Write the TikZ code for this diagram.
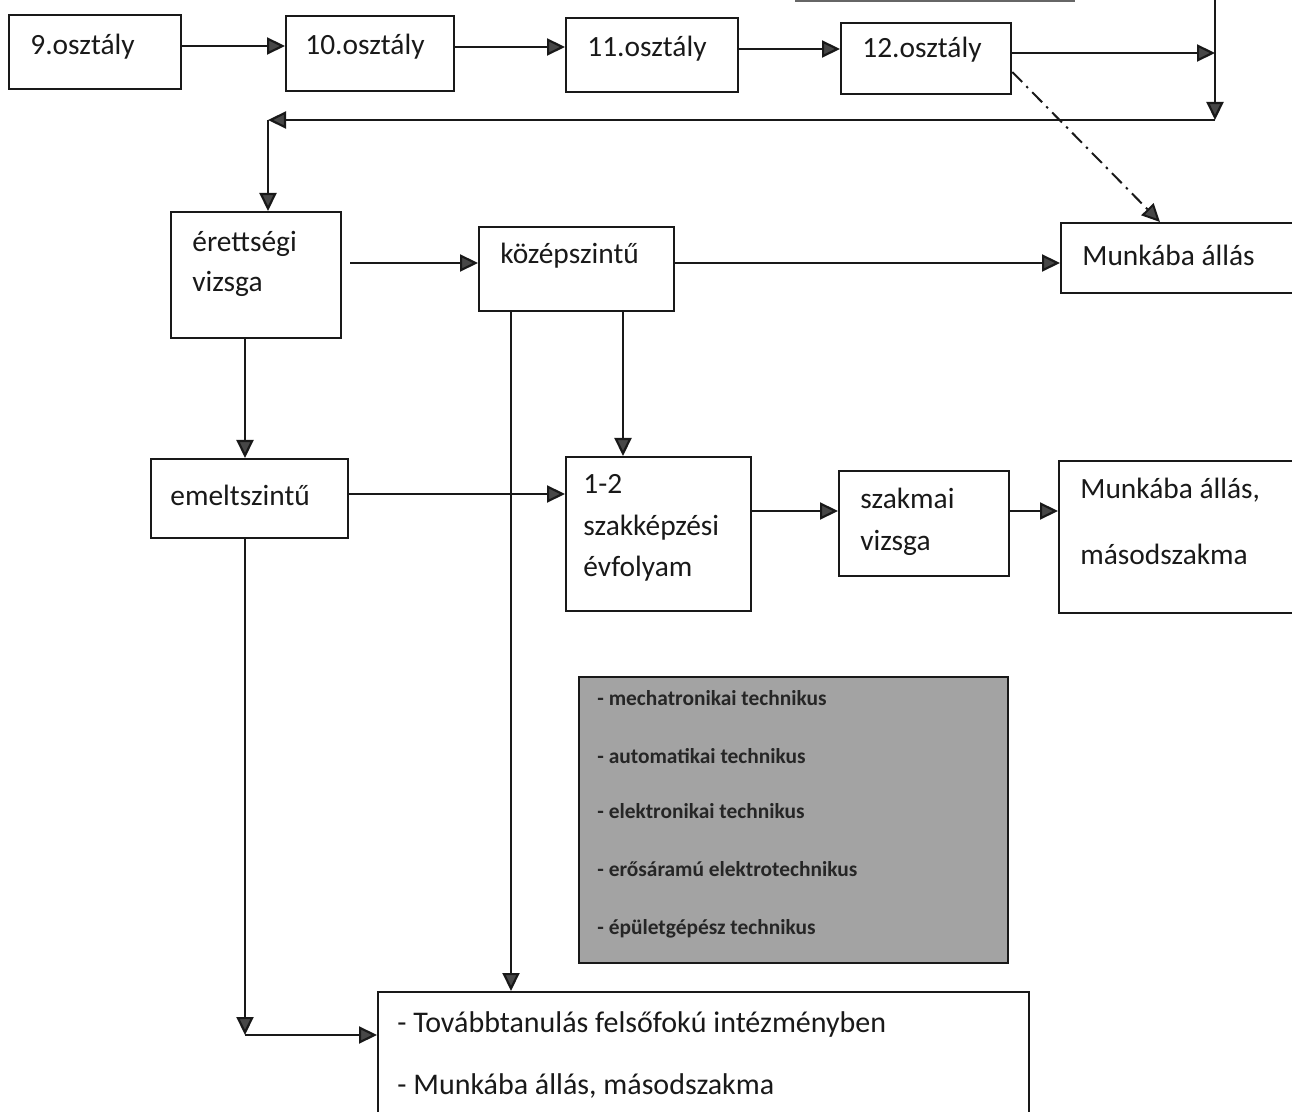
\documentclass[tikz,border=0pt]{standalone}
\usepackage{fontspec}
\setmainfont{Carlito}
\usetikzlibrary{arrows.meta}
\definecolor{boxgray}{RGB}{163,163,163}
\definecolor{ink}{RGB}{25,25,25}
\tikzset{
  box/.style={draw=ink, line width=1.15pt, inner sep=0pt},
  txt/.style={anchor=base west, inner sep=0pt, text=ink, font=\fontsize{14.7}{17}\selectfont},
  btxt/.style={anchor=base west, inner sep=0pt, text=ink, font=\fontsize{15}{17}\selectfont},
  gtxt/.style={anchor=base west, inner sep=0pt, text=black!85, font=\fontsize{10.7}{13}\selectfont\bfseries},
  arr/.style={draw=ink, line width=1.1pt, -{Triangle[length=9pt,width=8.5pt,fill=black!72]}},
  dd/.style={draw=ink, line width=1pt, dash pattern=on 7pt off 3pt on 1.2pt off 3pt, -{Triangle[length=9pt,width=8.5pt,fill=black!72]}}
}
\begin{document}
\begin{tikzpicture}[x=0.5pt, y=-0.5pt]
\useasboundingbox (0,0) rectangle (1292,1112);
\clip (0,0) rectangle (1292,1112);

% boxes
\node[box, minimum width=86pt, minimum height=37pt, anchor=north west] (a9) at (8,14) {};
\node[box, minimum width=84pt, minimum height=37.5pt, anchor=north west] (a10) at (285,15) {};
\node[box, minimum width=86pt, minimum height=37pt, anchor=north west] (a11) at (565,17) {};
\node[box, minimum width=85pt, minimum height=35.5pt, anchor=north west] (a12) at (840,22) {};

\node[box, minimum width=85pt, minimum height=63pt, anchor=north west] (er) at (170,211) {};
\node[box, minimum width=97.5pt, minimum height=42pt, anchor=north west] (kozep) at (478,226) {};
\node[box, minimum width=125pt, minimum height=35pt, anchor=north west] (munka1) at (1060,222) {};
\node[box, minimum width=98.5pt, minimum height=39.5pt, anchor=north west] (emelt) at (150,458) {};
\node[box, minimum width=92.5pt, minimum height=77pt, anchor=north west] (szk) at (565,456) {};
\node[box, minimum width=85pt, minimum height=52.5pt, anchor=north west] (szv) at (838,470) {};
\node[box, minimum width=125pt, minimum height=76pt, anchor=north west] (munka2) at (1058,460) {};
\node[box, fill=boxgray, minimum width=214.5pt, minimum height=143pt, anchor=north west] (gray) at (578,676) {};
\node[box, minimum width=325.5pt, minimum height=70pt, anchor=north west] (tovabb) at (377,991) {};

% texts
\node[txt] (t9) at (30,55) {9.osztály};
\node[txt] (t10) at (305,55) {10.osztály};
\node[txt] (t11) at (587,57) {11.osztály};
\node[txt] (t12) at (862,58) {12.osztály};
\node[txt] (ter1) at (192,252) {érettségi};
\node[txt] (ter2) at (192,292) {vizsga};
\node[txt] (tkozep) at (500,264) {középszintű};
\node[txt] (tmunka1) at (1082,266) {Munkába állás};
\node[txt] (temelt) at (170,506) {emeltszintű};
\node[txt] (tszk1) at (583,494) {1-2};
\node[txt] (tszk2) at (583,536) {szakképzési};
\node[txt] (tszk3) at (583,577) {évfolyam};
\node[txt] (tszv1) at (860,509) {szakmai};
\node[txt] (tszv2) at (860,551) {vizsga};
\node[txt] (tmunka2a) at (1080,499) {Munkába állás,};
\node[txt] (tmunka2b) at (1080,565) {másodszakma};
\node[btxt] (ttov1) at (397,1032) {- Továbbtanulás felsőfokú intézményben};
\node[btxt] (ttov2) at (397,1094) {- Munkába állás, másodszakma};
\node[gtxt] (g1) at (597,706) {- mechatronikai technikus};
\node[gtxt] (g2) at (597,763) {- automatikai technikus};
\node[gtxt] (g3) at (597,819) {- elektronikai technikus};
\node[gtxt] (g4) at (597,877) {- erősáramú elektrotechnikus};
\node[gtxt] (g5) at (597,934) {- épületgépész technikus};

% helper coordinates
\coordinate (topfragL) at (795,1);
\coordinate (topfragR) at (1075,1);
\coordinate (rtop) at (1215,0);
\coordinate (rjoin) at (1215,53);
\coordinate (rbot) at (1215,120);
\coordinate (lturn) at (268,120);
\coordinate (erstart) at (350,263);
\coordinate (emcorner) at (245,1035);

% fragment of a cropped box at the top
\draw[draw=black!60, line width=1.1pt] (topfragL) -- (topfragR);

% connectors
\draw[arr] (a9.east |- 0,46) -- (a10.west |- 0,46);
\draw[arr] (a10.east |- 0,47) -- (a11.west |- 0,47);
\draw[arr] (a11.east |- 0,49) -- (a12.west |- 0,49);
\draw[arr] (a12.east |- rjoin) -- (rjoin);
\draw[arr] (rtop) -- (rbot);
\draw[arr] (rbot) -- (lturn);
\draw[arr] (lturn) -- (lturn |- er.north);
\draw[arr] (erstart) -- (kozep.west |- erstart);
\draw[arr] (kozep.east |- 0,263) -- (munka1.west |- 0,263);
\draw[dd] (a12.east |- 0,72) -- (1160,222);
\draw[arr] (er.south -| 245,0) -- (emelt.north -| 245,0);
\draw[arr] (emelt.east |- 0,494) -- (szk.west |- 0,494);
\draw[arr] (kozep.south -| 623,0) -- (szk.north -| 623,0);
\draw[arr] (kozep.south -| 511,0) -- (tovabb.north -| 511,0);
\draw[arr] (szk.east |- 0,511) -- (szv.west |- 0,511);
\draw[arr] (szv.east |- 0,511) -- (munka2.west |- 0,511);
\draw[arr] (emelt.south -| emcorner) -- (emcorner);
\draw[arr] (emcorner) -- (tovabb.west |- emcorner);
\end{tikzpicture}
\end{document}
